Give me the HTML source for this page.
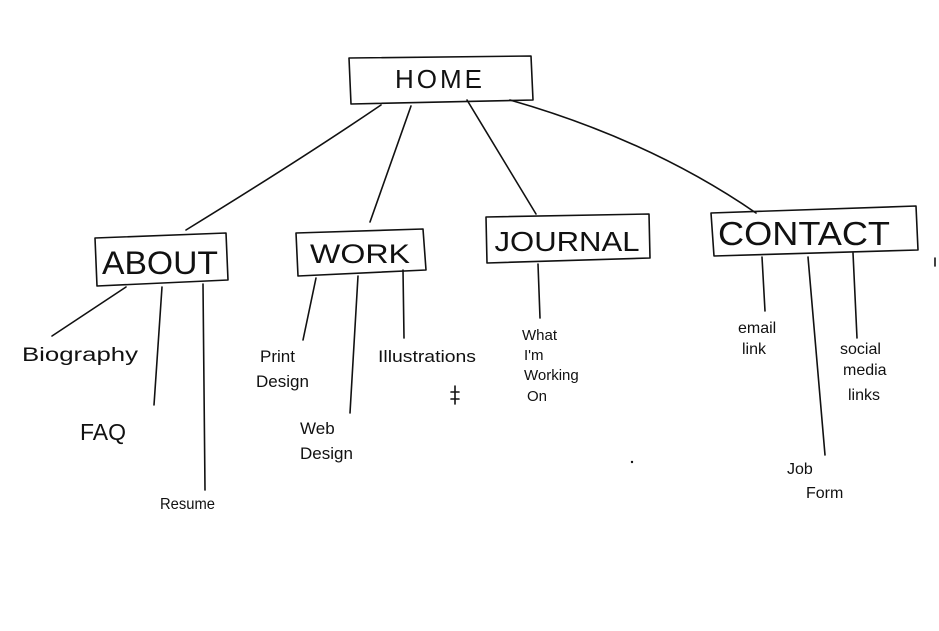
<!DOCTYPE html>
<html><head><meta charset="utf-8"><style>
html,body{margin:0;padding:0;background:#fff;}
svg{display:block;}
text{font-family:"Liberation Sans",sans-serif;fill:#111;}
</style></head><body>
<svg width="939" height="631" viewBox="0 0 939 631" xmlns="http://www.w3.org/2000/svg">
<g fill="none" stroke="#111" stroke-width="1.6" stroke-linejoin="round" stroke-linecap="round">
<polygon points="349,58 531,56 533,100 351,104"/>
<polygon points="95,238 226,233 228,280 97,286"/>
<polygon points="296,233 423,229 426,270 298,276"/>
<polygon points="486,217 649,214 650,258 487,263"/>
<polygon points="711,213 916,206 918,250 714,256"/>
<path d="M381,105 Q300,160 186,230"/>
<path d="M411,106 L370,222"/>
<path d="M467,100 L536,214"/>
<path d="M510,100 Q650,140 756,213"/>
<path d="M126,287 L52,336"/>
<path d="M162,287 L154,405"/>
<path d="M203,284 L205,490"/>
<path d="M316,278 L303,340"/>
<path d="M358,276 L350,413"/>
<path d="M403,270 L404,338"/>
<path d="M538,264 L540,318"/>
<path d="M762,257 L765,311"/>
<path d="M808,257 L825,455"/>
<path d="M853,253 L857,338"/>
<path d="M455,386 L455,404 M451,392 L459,392 M451,399 L459,399"/>
<path d="M935,258 L935,266"/>
</g>
<circle cx="632" cy="462" r="1.2" fill="#111"/>
<g>
<text x="440" y="88" font-size="26" text-anchor="middle" letter-spacing="3">HOME</text>
<text x="160" y="274" font-size="32" text-anchor="middle" textLength="116" lengthAdjust="spacingAndGlyphs">ABOUT</text>
<text x="360" y="263" font-size="27" text-anchor="middle" textLength="100" lengthAdjust="spacingAndGlyphs">WORK</text>
<text x="567" y="251" font-size="28" text-anchor="middle" textLength="145" lengthAdjust="spacingAndGlyphs">JOURNAL</text>
<text x="804" y="245" font-size="33" text-anchor="middle" textLength="172" lengthAdjust="spacingAndGlyphs">CONTACT</text>
<text x="22" y="361" font-size="19" textLength="116" lengthAdjust="spacingAndGlyphs">Biography</text>
<text x="80" y="440" font-size="23">FAQ</text>
<text x="160" y="509" font-size="16" textLength="55" lengthAdjust="spacingAndGlyphs">Resume</text>
<text x="260" y="362" font-size="17">Print</text>
<text x="256" y="387" font-size="17">Design</text>
<text x="378" y="362" font-size="17" textLength="98" lengthAdjust="spacingAndGlyphs">Illustrations</text>
<text x="300" y="434" font-size="17">Web</text>
<text x="300" y="459" font-size="17">Design</text>
<text x="522" y="340" font-size="15">What</text>
<text x="524" y="360" font-size="15">I'm</text>
<text x="524" y="380" font-size="15">Working</text>
<text x="527" y="401" font-size="15">On</text>
<text x="738" y="333" font-size="16">email</text>
<text x="742" y="354" font-size="16">link</text>
<text x="840" y="354" font-size="16">social</text>
<text x="843" y="375" font-size="16">media</text>
<text x="848" y="400" font-size="16">links</text>
<text x="787" y="474" font-size="16">Job</text>
<text x="806" y="498" font-size="16">Form</text>
</g>
</svg>
</body></html>
